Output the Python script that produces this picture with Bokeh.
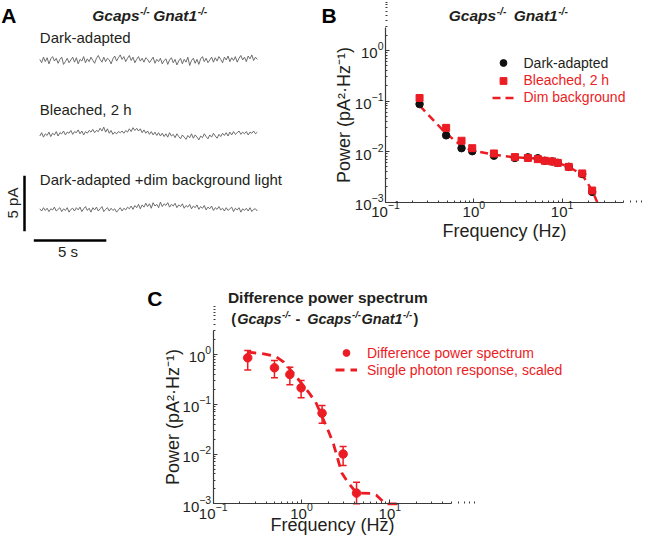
import math
import numpy as np
from bokeh.plotting import figure
from bokeh.models import (Range1d, Label, Legend, LegendItem, ColumnDataSource,
                          Whisker, TeeHead, FixedTicker)
from bokeh.layouts import column, row
from bokeh.embed import file_html
from bokeh.resources import INLINE

# ---------------- data ----------------
# Panel A: noise traces (pA, deviation from each trace's baseline), 15 s each
trace_dark = [0.1, -0.2, 0.3, -0.1, 0.25, -0.3, 0.15, 0.35, -0.05, 0.2, -0.25, 0.1, 0.3, -0.35, -0.1, 0.2, -0.2, 0.05, 0.3, -0.15,
              0.25, -0.3, 0.1, -0.05, 0.35, -0.2, 0.15, -0.1, 0.3, 0.0, -0.25, 0.2, 0.45, 0.1, -0.15, 0.3, -0.1, 0.2, 0.05, -0.3,
              0.15, 0.4, -0.05, 0.25, 0.5, 0.1, 0.35, -0.1, 0.2, 0.45, 0.0, 0.3, -0.2, 0.1, 0.35, -0.05, 0.2, -0.15, 0.25, 0.1,
              -0.2, 0.05, 0.3, -0.25, 0.1, -0.1, 0.2, -0.3, 0.0, 0.15, -0.35, 0.05, 0.25, -0.2, 0.1, -0.4, -0.05, 0.2, -0.3, 0.1,
              -0.15, 0.3, -0.45, 0.0, 0.2, -0.25, 0.1, -0.35, 0.15, 0.35, -0.1, 0.2, -0.2, 0.05, 0.3, -0.15, 0.25, -0.05, 0.35, 0.1,
              -0.2, 0.3, 0.05, 0.4, -0.1, 0.25, 0.0, 0.35, -0.15, 0.2, 0.45, 0.05, 0.3, -0.1, 0.4, 0.15, 0.5, 0.0, 0.3, 0.1]
trace_bleached = [-0.2, 0.1, -0.3, 0.0, -0.15, 0.15, -0.25, 0.05, -0.1, 0.2, -0.2, 0.1, 0.0, 0.25, -0.1, 0.15, 0.05, 0.3, -0.05, 0.2,
                  0.1, 0.35, 0.0, 0.25, -0.1, 0.2, 0.05, 0.3, 0.15, 0.4, 0.1, 0.3, 0.2, 0.5, 0.25, 0.6, 0.15, 0.45, 0.05, 0.3,
                  -0.05, 0.15, 0.0, 0.2, 0.1, 0.25, 0.05, 0.3, 0.15, 0.45, 0.2, 0.55, 0.3, 0.5, 0.25, 0.45, 0.1, 0.35, 0.05, 0.25,
                  -0.05, 0.2, -0.1, 0.15, -0.15, 0.1, -0.2, 0.05, -0.25, 0.0, -0.3, 0.1, -0.2, -0.05, -0.35, 0.0, -0.25, -0.45, -0.1, -0.3,
                  -0.5, -0.15, -0.35, 0.0, -0.4, -0.1, -0.3, -0.55, -0.2, -0.35, 0.0, -0.25, -0.45, -0.1, -0.3, 0.05, -0.2, -0.4, -0.05, -0.25,
                  0.05, -0.15, 0.1, -0.2, 0.15, -0.1, 0.2, -0.05, 0.1, 0.25, -0.05, 0.15, 0.0, 0.2, -0.1, 0.15, 0.05, 0.25, 0.0, 0.15]
trace_dim = [0.0, -0.2, 0.1, -0.15, 0.05, -0.25, 0.0, -0.1, 0.15, -0.2, -0.05, 0.1, -0.25, 0.0, -0.15, 0.1, -0.3, -0.05, 0.05, -0.2,
             0.1, -0.1, 0.15, -0.25, 0.0, 0.2, -0.15, 0.05, -0.3, 0.1, -0.1, 0.15, -0.2, 0.0, 0.2, -0.25, -0.05, 0.1, -0.2, 0.05,
             -0.15, 0.0, -0.3, -0.1, 0.1, -0.2, 0.05, -0.1, 0.15, 0.0, 0.25, -0.05, 0.3, 0.1, 0.4, 0.0, 0.35, 0.15, 0.5, 0.2,
             0.45, 0.05, 0.55, 0.25, 0.4, 0.1, 0.6, 0.2, 0.45, 0.3, 0.55, 0.15, 0.4, 0.25, 0.5, 0.1, 0.35, 0.2, 0.45, 0.05,
             0.3, 0.15, 0.4, 0.0, 0.25, 0.1, 0.35, -0.05, 0.2, 0.05, 0.3, -0.1, 0.15, 0.0, 0.25, -0.15, 0.1, -0.05, 0.2, -0.1,
             0.05, -0.2, 0.1, -0.15, 0.0, 0.15, -0.25, 0.05, -0.1, 0.1, -0.3, 0.0, -0.15, 0.05, -0.2, 0.1, -0.25, -0.05, 0.0, -0.2]
trace_labels = ["Dark-adapted", "Bleached, 2 h", "Dark-adapted +dim background light"]
trace_duration_s = 15.0
scale_bar_pa = 5.0
scale_bar_s = 5.0

# Panel B: power spectra (Hz, pA^2/Hz)
freq_b = [0.243, 0.486, 0.726, 0.96, 1.69, 2.92, 4.1, 5.31, 6.37, 7.72, 8.94, 11.9, 16.9, 21.9]
dark_b = [0.087, 0.021, 0.0117, 0.0102, 0.0083, 0.0075, 0.0077, 0.0074, 0.0066, 0.0064, 0.0060, 0.0050, 0.0036, 0.0016]
bleached_b = [0.115, 0.0295, 0.0164, 0.0117, 0.0092, 0.0078, 0.0075, 0.0071, 0.0066, 0.0064, 0.0060, 0.0050, 0.0037, 0.0017]
dim_freq_b = [0.243, 0.486, 0.726, 0.96, 1.69, 2.92, 4.1, 5.31, 6.37, 7.72, 8.94, 11.9, 16.9, 21.9, 25.0]
dim_b = [0.081, 0.0228, 0.0130, 0.0105, 0.0087, 0.0077, 0.0075, 0.0072, 0.0067, 0.0064, 0.0060, 0.0050, 0.0035, 0.0017, 0.001]
legend_b = ["Dark-adapted", "Bleached, 2 h", "Dim background"]

# Panel C: difference power spectrum with error bars, and scaled single photon response
freq_c = [0.246, 0.494, 0.738, 0.99, 1.71, 2.96, 4.2]
diff_c = [0.857, 0.54, 0.396, 0.214, 0.0662, 0.0100, 0.00164]
diff_hi = [1.2, 0.76, 0.556, 0.30, 0.0945, 0.0142, 0.0027]
diff_lo = [0.49, 0.34, 0.246, 0.135, 0.0417, 0.0059, 0.001]
spr_f = [0.243, 0.374, 0.51, 0.63, 0.82, 0.975, 1.2, 1.45, 1.7, 2.0, 2.3, 2.6, 2.85, 3.3, 4.2, 6.0, 7.0, 8.5, 9.5, 12.6]
spr_p = [1.12, 1.03, 0.91, 0.70, 0.41, 0.28, 0.175, 0.11, 0.058, 0.03, 0.016, 0.0075, 0.0042, 0.0028, 0.00165, 0.00162, 0.0015, 0.00108, 0.001, 0.001]
legend_c = ["Difference power spectrum", "Single photon response, scaled"]

x_ticks = [0.1, 1, 10]
y_ticks = [0.001, 0.01, 0.1, 1]
x_bounds = (0.1, 50)
y_bounds_b = (0.001, 2.8)
y_bounds_c = (0.001, 3.0)

# ---------------- style / layout constants ----------------
RED = "#ec1c24"
INK = "#231f20"
FONT = "Liberation Sans"
EM_GCAPS = 3.057   # advance of "Gcaps" in em (bold italic)
EM_GNAT1 = 2.834   # advance of "Gnat1" in em (bold italic)
EM_SUP = 0.944     # advance of "-/-" in em


def add_label(fig, ox, oy, px, py, text, size, style="normal", color=INK,
              align="left", angle=0.0):
    fig.add_layout(Label(x=px - ox, y=oy - py, x_units="screen", y_units="screen",
                         text=text, text_font=FONT, text_font_size=f"{size}px",
                         text_font_style=style, text_color=color, text_align=align,
                         text_baseline="middle", angle=angle))


def log_ranges(fig_left, fig_top, w, h, x0_px, x_dec_px, y0_px, y_dec_px):
    """x0_px: page x of 0.1; y0_px: page y of 0.001."""
    xs = 10 ** (-1 - (x0_px - fig_left) / x_dec_px)
    xe = 10 ** (-1 + (fig_left + w - x0_px) / x_dec_px)
    ys = 10 ** (-3 - (fig_top + h - y0_px) / y_dec_px)
    ye = 10 ** (-3 + (y0_px - fig_top) / y_dec_px)
    return Range1d(xs, xe), Range1d(ys, ye)


def style_log_axes(p, xlabel, ylabel, ybounds, xlab_standoff, ylab_standoff):
    p.grid.visible = False
    p.outline_line_color = None
    p.xaxis.ticker = FixedTicker(ticks=x_ticks,
                                 minor_ticks=[k * 10.0 ** e for e in (-1, 0, 1) for k in range(2, 10)])
    p.yaxis.ticker = FixedTicker(ticks=y_ticks,
                                 minor_ticks=[k * 10.0 ** e for e in (-3, -2, -1, 0) for k in range(2, 10)])
    p.xaxis.fixed_location = ybounds[0]
    p.yaxis.fixed_location = x_bounds[0]
    p.xaxis.bounds = x_bounds
    p.yaxis.bounds = ybounds
    for ax in p.axis:
        ax.axis_line_color = "#3a3a3a"
        ax.axis_line_width = 1.2
        ax.major_tick_in = 4
        ax.major_tick_out = 0
        ax.minor_tick_in = 2
        ax.minor_tick_out = 0
        ax.major_tick_line_color = "#3a3a3a"
        ax.minor_tick_line_color = "#3a3a3a"
        ax.major_label_text_font = FONT
        ax.major_label_text_font_size = "15px"
        ax.major_label_text_color = INK
        ax.axis_label_text_font = FONT
        ax.axis_label_text_font_size = "18px"
        ax.axis_label_text_font_style = "normal"
        ax.axis_label_text_color = INK
    p.xaxis.major_label_standoff = -1
    p.yaxis.major_label_standoff = 2
    p.xaxis.axis_label = xlabel
    p.yaxis.axis_label = ylabel
    p.xaxis.axis_label_standoff = xlab_standoff
    p.yaxis.axis_label_standoff = ylab_standoff


def make_legend(items, loc, color):
    return Legend(items=items, location=loc, label_text_font=FONT,
                  label_text_font_size="14px", label_text_color=color,
                  background_fill_alpha=0, border_line_alpha=0, padding=0, margin=0,
                  spacing=0, glyph_width=22, glyph_height=17, label_height=17,
                  label_standoff=10)


def title_gcaps_gnat1(fig, ox, oy, x_g, x_n, y, size):
    sup = round(size * 0.66, 1)
    add_label(fig, ox, oy, x_g, y, "Gcaps", size, "bold italic")
    add_label(fig, ox, oy, x_g + EM_GCAPS * size + 0.5, y - 4, "-/-", sup, "bold italic")
    add_label(fig, ox, oy, x_n, y, "Gnat1", size, "bold italic")
    add_label(fig, ox, oy, x_n + EM_GNAT1 * size + 0.5, y - 4, "-/-", sup, "bold italic")


# ---------------- panel A ----------------
PX_PER_S = 14.5
PX_PER_PA = 11.1
A_L, A_T, A_W, A_H = 0, 0, 320, 270
pA = figure(width=A_W, height=A_H, x_range=Range1d(0, A_W / PX_PER_S),
            y_range=Range1d(0, A_H / PX_PER_PA), x_axis_location=None, y_axis_location=None,
            toolbar_location=None, output_backend="svg", min_border=0,
            outline_line_color=None)
pA.grid.visible = False

t0 = (39.3 - A_L) / PX_PER_S
baselines = [(A_T + A_H - py) / PX_PER_PA for py in (60, 133.3, 208.3)]
for vals, base in zip([trace_dark, trace_bleached, trace_dim], baselines):
    v = np.array(vals)
    t = t0 + np.arange(len(v)) * (trace_duration_s / (len(v) - 1))
    pA.line(t, base + v, line_color="#5e5e5e", line_width=0.9)

# scale bars
vb_x = (24 - A_L) / PX_PER_S
vb_y0 = (A_T + A_H - 230.7) / PX_PER_PA
pA.line([vb_x, vb_x], [vb_y0, vb_y0 + scale_bar_pa], line_color="black", line_width=2.5)
hb_x0 = (33.3 - A_L) / PX_PER_S
hb_y = (A_T + A_H - 240) / PX_PER_PA
pA.line([hb_x0, hb_x0 + scale_bar_s], [hb_y, hb_y], line_color="black", line_width=2.5)

A_OX, A_OY = A_L, A_T + A_H
add_label(pA, A_OX, A_OY, 0.7, 15, "A", 21, "bold", "black")
title_gcaps_gnat1(pA, A_OX, A_OY, 91.7, 152.7, 15, 15.5)
for txt, y in zip(trace_labels, [37, 109, 179]):
    add_label(pA, A_OX, A_OY, 39.3, y, txt, 15)
add_label(pA, A_OX, A_OY, 12, 202.5, "5 pA", 15, align="center", angle=math.pi / 2)
add_label(pA, A_OX, A_OY, 67.5, 251, "5 s", 15, align="center")

# ---------------- panel B ----------------
B_L, B_T, B_W, B_H = 320, 0, 326, 270
xr, yr = log_ranges(B_L, B_T, B_W, B_H, 385.0, 88.3, 201.7, 50.57)
pB = figure(width=B_W, height=B_H, x_axis_type="log", y_axis_type="log",
            x_range=xr, y_range=yr, toolbar_location=None, output_backend="svg",
            min_border=0)
style_log_axes(pB, "Frequency (Hz)", "Power (pA²·Hz⁻¹)", y_bounds_b, 0, -2)
r_dim = pB.line(dim_freq_b, dim_b, line_color=RED, line_width=2.5, line_dash="8 5")
r_dark = pB.scatter(freq_b, dark_b, marker="circle", size=7.5, color="#111111")
r_bl = pB.scatter(freq_b, bleached_b, marker="square", size=7, color=RED)
B_OX, B_OY = B_L, B_T + B_H
pB.add_layout(make_legend([LegendItem(label=legend_b[0], renderers=[r_dark])],
                          (491.5 - B_OX, B_OY - 71.2), INK))
pB.add_layout(make_legend([LegendItem(label=legend_b[1], renderers=[r_bl]),
                           LegendItem(label=legend_b[2], renderers=[r_dim])],
                          (491.5 - B_OX, B_OY - 105.5), RED))
add_label(pB, B_OX, B_OY, 321, 15, "B", 21, "bold", "black")
title_gcaps_gnat1(pB, B_OX, B_OY, 448.3, 513.3, 14.5, 15.5)

# ---------------- panel C ----------------
C_L, C_T, C_W, C_H = 0, A_T + A_H, 646, 271
xr, yr = log_ranges(C_L, C_T, C_W, C_H, 212.7, 88.3, 503.3, 49.77)
pC = figure(width=C_W, height=C_H, x_axis_type="log", y_axis_type="log",
            x_range=xr, y_range=yr, toolbar_location=None, output_backend="svg",
            min_border=0)
style_log_axes(pC, "Frequency (Hz)", "Power (pA²·Hz⁻¹)", y_bounds_c, -7, -3)
r_spr = pC.line(spr_f, spr_p, line_color=RED, line_width=2.8, line_dash="9 6")
src_c = ColumnDataSource(dict(f=freq_c, p=diff_c, hi=diff_hi, lo=diff_lo))
pC.add_layout(Whisker(source=src_c, base="f", upper="hi", lower="lo", dimension="height",
                      line_color=RED, line_width=1.5,
                      upper_head=TeeHead(size=7, line_color=RED, line_width=1.5),
                      lower_head=TeeHead(size=7, line_color=RED, line_width=1.5)))
r_diff = pC.scatter("f", "p", source=src_c, marker="circle", size=8.5, color=RED)
C_OX, C_OY = C_L, C_T + C_H
pC.add_layout(make_legend([LegendItem(label=legend_c[0], renderers=[r_diff]),
                           LegendItem(label=legend_c[1], renderers=[r_spr])],
                          (335 - C_OX, C_OY - 378.2), RED))
add_label(pC, C_OX, C_OY, 146.7, 298, "C", 21, "bold", "black")
add_label(pC, C_OX, C_OY, 327.3, 297, "Difference power spectrum", 15.5, "bold", align="center")
y2, f2 = 318, 14.5
sup2 = 9.5
add_label(pC, C_OX, C_OY, 230.7, y2, "(", f2, "bold")
add_label(pC, C_OX, C_OY, 236.7, y2, "Gcaps", f2, "bold italic")
add_label(pC, C_OX, C_OY, 236.7 + EM_GCAPS * f2 + 0.5, y2 - 4, "-/-", sup2, "bold italic")
add_label(pC, C_OX, C_OY, 295.0, y2, "-", f2, "bold")
add_label(pC, C_OX, C_OY, 306.7, y2, "Gcaps", f2, "bold italic")
x_s = 306.7 + EM_GCAPS * f2 + 0.5
add_label(pC, C_OX, C_OY, x_s, y2 - 4, "-/-", sup2, "bold italic")
x_n = x_s + EM_SUP * sup2 + 0.5
add_label(pC, C_OX, C_OY, x_n, y2, "Gnat1", f2, "bold italic")
x_s2 = x_n + EM_GNAT1 * f2 + 0.5
add_label(pC, C_OX, C_OY, x_s2, y2 - 4, "-/-", sup2, "bold italic")
add_label(pC, C_OX, C_OY, x_s2 + EM_SUP * sup2 + 1.5, y2, ")", f2, "bold")

layout = column(row(pA, pB), pC)
open("out.html", "w").write(file_html(layout, INLINE))
